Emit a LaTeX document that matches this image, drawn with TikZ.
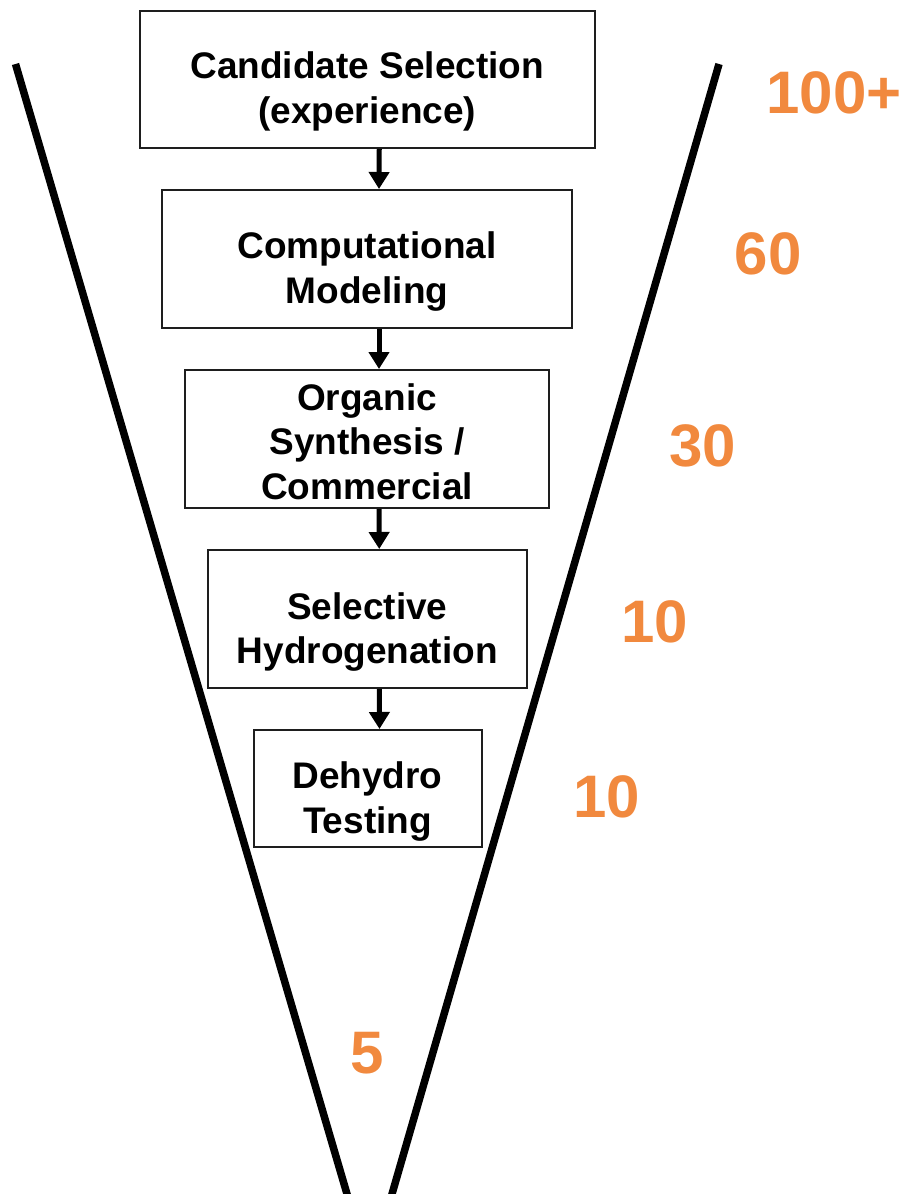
\documentclass[tikz,border=0pt]{standalone}
\usepackage{fontspec}
\setmainfont{Liberation Sans}
\usetikzlibrary{arrows.meta,calc}
\definecolor{numorange}{RGB}{241,137,62}
\definecolor{boxline}{RGB}{30,30,30}
\newcommand\stagelines[2]{\raisebox{-#1}[\height][\depth]{\begin{tabular}{@{}c@{}}#2\end{tabular}}}
\begin{document}
\begin{tikzpicture}[x=1pt,y=-1pt,
  stage/.style={draw=boxline, line width=2pt, inner sep=0pt,
    font=\fontsize{37}{44.5}\selectfont\bfseries},
  flow/.style={line width=5pt, -{Triangle[width=20pt,length=17pt]}},
  funnel/.style={line width=7.5pt},
  count/.style={text=numorange, inner sep=0pt, font=\fontsize{60}{72}\selectfont\bfseries}]
\useasboundingbox (0,0) rectangle (905,1194);
\begin{scope}
\clip (0,0) rectangle (905,1194);
\coordinate (lt) at (15.5,64);
\coordinate (lb) at (347,1194);
\coordinate (rt) at (719,64);
\coordinate (rb) at (392,1194);
\draw[funnel] (lt) -- ($(lt)!1.02!(lb)$);
\draw[funnel] (rt) -- ($(rt)!1.02!(rb)$);
\end{scope}

\node[stage, minimum width=455.5pt, minimum height=137pt] (s1) at (367.25,79.5) {\stagelines{12.5pt}{Candidate Selection\\(experience)}};
\node[stage, minimum width=410pt, minimum height=138pt] (s2) at (367,259) {\stagelines{13pt}{Computational\\Modeling}};
\node[stage, minimum width=364pt, minimum height=138pt] (s3) at (367,439) {\stagelines{7pt}{Organic\\Synthesis /\\Commercial}};
\node[stage, minimum width=318.5pt, minimum height=138pt] (s4) at (367.25,619) {\stagelines{13.5pt}{Selective\\Hydrogenation}};
\node[stage, minimum width=228pt, minimum height=117pt] (s5) at (367.5,788.5) {\stagelines{13.5pt}{Dehydro\\Testing}};

\draw[flow] ([xshift=12pt]s1.south) -- ([xshift=12pt]s2.north);
\draw[flow] ([xshift=12pt]s2.south) -- ([xshift=12pt]s3.north);
\draw[flow] ([xshift=12pt]s3.south) -- ([xshift=12pt]s4.north);
\draw[flow] ([xshift=12pt]s4.south) -- ([xshift=12pt]s5.north);

\node[count] (n1) at (834,93) {100+};
\node[count] (n2) at (768,254) {60};
\node[count] (n3) at (703,446) {30};
\node[count] (n4) at (655,622) {10};
\node[count] (n5) at (607,797) {10};
\node[count] (n6) at (367,1053) {5};
\end{tikzpicture}
\end{document}
